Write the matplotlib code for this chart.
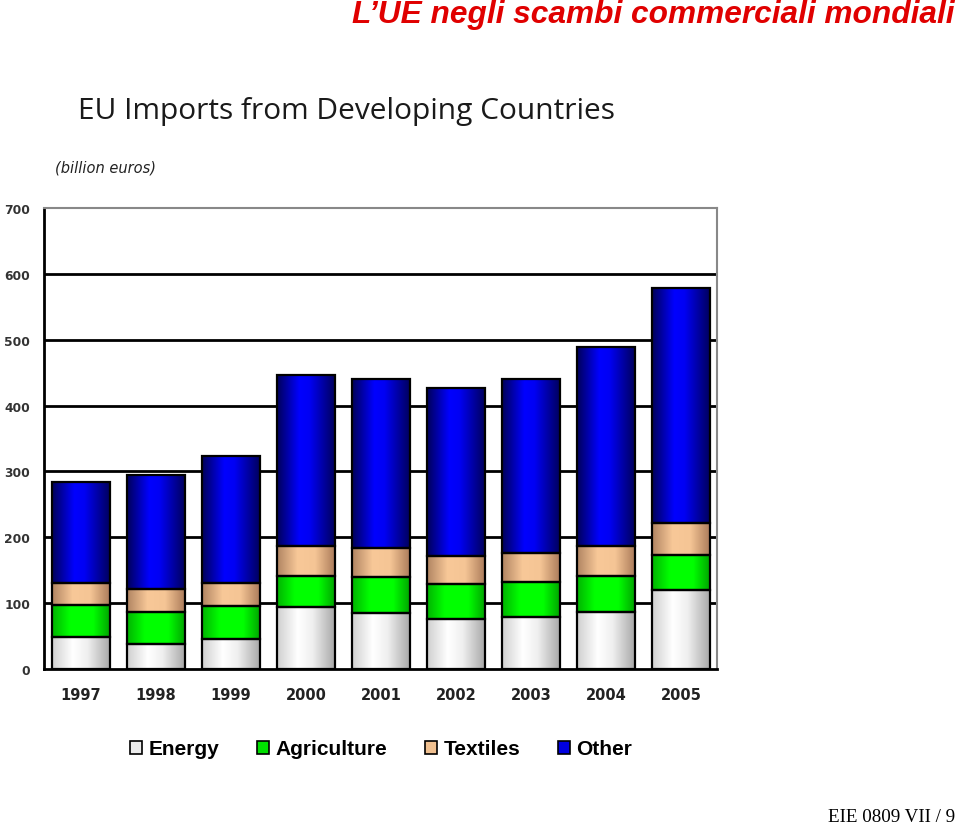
import matplotlib
matplotlib.use("Agg")
import matplotlib.pyplot as plt
import numpy as np
from matplotlib.colors import LinearSegmentedColormap
from matplotlib.patches import Rectangle

years = ["1997", "1998", "1999", "2000", "2001", "2002", "2003", "2004", "2005"]
energy = [48, 38, 46, 94, 85, 76, 79, 87, 120]
agriculture = [49, 49, 50, 47, 55, 53, 53, 54, 53]
textiles = [34, 35, 35, 46, 44, 43, 44, 46, 49]
other = [153, 173, 193, 260, 257, 255, 265, 302, 357]
series_names = ["Energy", "Agriculture", "Textiles", "Other"]
yticks = [0, 100, 200, 300, 400, 500, 600, 700]

cmaps = [
    LinearSegmentedColormap.from_list("en", [(0, "#cfcfcf"), (0.35, "#ffffff"), (0.6, "#f0f0f0"), (1, "#a5a5a5")]),
    LinearSegmentedColormap.from_list("ag", [(0, "#00b400"), (0.3, "#00ff00"), (0.7, "#00ff00"), (1, "#00a000")]),
    LinearSegmentedColormap.from_list("tx", [(0, "#b08462"), (0.35, "#f8c898"), (0.65, "#f5c595"), (1, "#a87858")]),
    LinearSegmentedColormap.from_list("ot", [(0, "#00005a"), (0.38, "#0000ff"), (0.55, "#0000f5"), (1, "#000058")]),
]
legend_colors = ["#ececec", "#00e000", "#f0c090", "#0000e0"]

fig = plt.figure(figsize=(9.6, 8.29), dpi=100)
ax = fig.add_axes([44 / 960, 1 - 670 / 829, 673 / 960, 461 / 829])

x = np.arange(len(years))
width = 0.78
grad = np.linspace(0, 1, 256).reshape(1, -1)
bottom = np.zeros(len(years))
for vals, cm in zip([energy, agriculture, textiles, other], cmaps):
    bars = ax.bar(x, vals, width, bottom=bottom, facecolor="none",
                  edgecolor="black", linewidth=1.6, zorder=4)
    for b in bars:
        x0, y0 = b.get_x(), b.get_y()
        im = ax.imshow(grad, extent=[x0, x0 + b.get_width(), y0, y0 + b.get_height()],
                       aspect="auto", cmap=cm, zorder=3, interpolation="bilinear")
        im.set_clip_path(b)
    bottom = bottom + np.array(vals)

ax.set_xlim(-0.49, len(years) - 1 + 0.48)
ax.set_ylim(0, 700)
ax.set_yticks(yticks)
ax.set_yticklabels([str(t) for t in yticks])
ax.set_xticks(x)
ax.set_xticklabels(years)
for t in yticks[1:-1]:
    ax.axhline(t, color="black", linewidth=2, zorder=1)
ax.tick_params(length=0)
ax.tick_params(axis="y", pad=10, labelsize=8.8, labelcolor="#333333")
ax.tick_params(axis="x", pad=13, labelsize=10.5, labelcolor="#222222")
for lab in ax.get_xticklabels() + ax.get_yticklabels():
    lab.set_fontweight("bold")
    lab.set_family("DejaVu Sans")
ax.spines["left"].set_color("black")
ax.spines["left"].set_linewidth(2)
ax.spines["bottom"].set_color("black")
ax.spines["bottom"].set_linewidth(2)
ax.spines["top"].set_color("#888888")
ax.spines["top"].set_linewidth(1.5)
ax.spines["right"].set_color("#888888")
ax.spines["right"].set_linewidth(1.5)

handles = [Rectangle((0, 0), 1, 1, facecolor=c, edgecolor="black", linewidth=1.2) for c in legend_colors]
fig.legend(handles, series_names, loc="center", bbox_to_anchor=(381 / 960, 1 - 750 / 829),
           ncol=4, frameon=False, handlelength=0.6, handleheight=0.6, handletextpad=0.3,
           columnspacing=1.8, prop={"family": "Liberation Sans", "weight": "bold", "size": 15})

fig.text(78 / 960, 1 - 112 / 829, "EU Imports from Developing Countries", ha="left", va="center",
         fontsize=21.5, family="Open Sans", color="#1a1a1a")
fig.text(55 / 960, 1 - 168 / 829, "(billion euros)", ha="left", va="center",
         fontsize=10.5, family="DejaVu Sans", style="italic", color="#222222")
fig.text(955 / 960, 1 - 15 / 829, "L\u2019UE negli scambi commerciali mondiali", ha="right", va="center",
         fontsize=22.8, family="Liberation Sans", weight="bold", style="italic", color="#e00000")
fig.text(955 / 960, 1 - 818 / 829, "EIE 0809 VII / 9", ha="right", va="center",
         fontsize=13.7, family="Liberation Serif", color="black")

fig.savefig("out.png", dpi=100)
